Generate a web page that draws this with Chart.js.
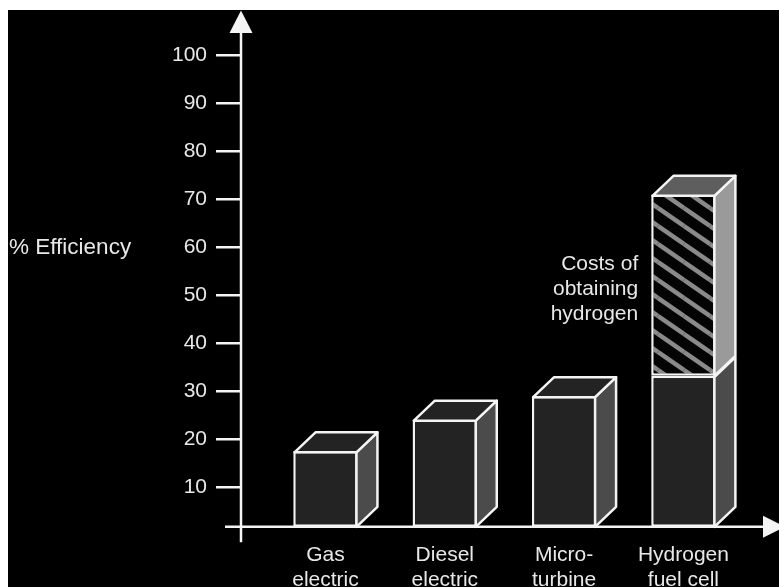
<!DOCTYPE html>
<html>
<head>
<meta charset="utf-8">
<script src="https://cdn.jsdelivr.net/npm/chart.js@4/dist/chart.umd.min.js"></script>
<style>
  html, body { margin: 0; padding: 0; background: #fff; overflow: hidden; width: 779px; height: 587px; }
  #wrap { position: absolute; left: 8px; top: 10px; width: 771px; height: 577px; background: #000; }
  canvas { display: block; }
</style>
</head>
<body>
<div id="wrap"><canvas id="c" width="771" height="577"></canvas></div>
<script>
// Categories along the horizontal axis (two-line labels)
const CATEGORIES = [['Gas', 'electric'], ['Diesel', 'electric'], ['Micro-', 'turbine'], ['Hydrogen', 'fuel cell']];
// Efficiency of each power source, in %
const EFFICIENCY = [17.5, 24.1, 29.0, 33.2];
// Top of the stacked hydrogen segment (efficiency before the cost of obtaining hydrogen)
const WITH_HYDROGEN_COST = [null, null, null, 71.0];
// Value-axis tick labels
const Y_TICKS = [10, 20, 30, 40, 50, 60, 70, 80, 90, 100];
// Value at which the horizontal axis crosses the vertical one
const AXIS_BASE = 1.7;
const Y_LABEL = '% Efficiency';
const NOTE_LINES = ['Costs of', 'obtaining', 'hydrogen'];

const FONT = '"Liberation Sans", Arial, Helvetica, sans-serif';
const FONT_SIZE = 21;
const TEXT = '#e8e8e8';
const LINE = '#f4f4f4';
const LW = 2.5;
const DX = 21, DY = 20;   // depth of the 3D boxes

const canvas = document.getElementById('c');
const ctx0 = canvas.getContext('2d');

// Diagonal stripe fill for the hatched segment
function makeHatch() {
  const w = 26, h = 18;
  const t = document.createElement('canvas');
  t.width = w; t.height = h;
  const g = t.getContext('2d');
  g.fillStyle = '#040404';
  g.fillRect(0, 0, w, h);
  g.strokeStyle = '#8a8a8a';
  g.lineWidth = 4.5;
  for (const ox of [-w, 0, w]) {
    for (const oy of [-h, 0, h]) {
      g.beginPath();
      g.moveTo(ox, oy);
      g.lineTo(ox + w, oy + h);
      g.stroke();
    }
  }
  return ctx0.createPattern(t, 'repeat');
}
const HATCH = makeHatch();

// Side and top faces drawn on each bar
const boxFaces = {
  id: 'boxFaces',
  afterDatasetsDraw(chart) {
    const ctx = chart.ctx;
    const draw = (el, sideFill, topFill) => {
      const p = el.getProps(['x', 'y', 'base', 'width'], true);
      const h = LW / 2;
      const l = p.x - p.width / 2 + h, r = p.x + p.width / 2 - h;
      const t = Math.min(p.y, p.base) + h, b = Math.max(p.y, p.base);
      ctx.save();
      ctx.lineJoin = 'round';
      ctx.lineWidth = LW;
      ctx.strokeStyle = LINE;
      ctx.beginPath();
      ctx.moveTo(r, t); ctx.lineTo(r + DX, t - DY); ctx.lineTo(r + DX, b - DY); ctx.lineTo(r, b);
      ctx.closePath();
      ctx.fillStyle = sideFill; ctx.fill(); ctx.stroke();
      if (topFill) {
        ctx.beginPath();
        ctx.moveTo(l, t); ctx.lineTo(l + DX, t - DY); ctx.lineTo(r + DX, t - DY); ctx.lineTo(r, t);
        ctx.closePath();
        ctx.fillStyle = topFill; ctx.fill(); ctx.stroke();
      }
      ctx.restore();
    };
    chart.getDatasetMeta(0).data.forEach((el, i) => {
      draw(el, '#4b4b4b', WITH_HYDROGEN_COST[i] == null ? '#232323' : null);
    });
    chart.getDatasetMeta(1).data.forEach((el, i) => {
      if (WITH_HYDROGEN_COST[i] == null) return;
      draw(el, '#9a9a9a', '#5e5e5e');
    });
  }
};

// Axis lines with arrow heads, axis title and the note beside the hydrogen bar
const axesAndNotes = {
  id: 'axesAndNotes',
  afterDatasetsDraw(chart) {
    const { ctx, chartArea, scales: { y } } = chart;
    const ax = chartArea.left;
    const ay = y.getPixelForValue(AXIS_BASE);
    const W = chart.width;
    ctx.save();
    ctx.strokeStyle = LINE;
    ctx.fillStyle = LINE;
    ctx.lineWidth = LW;
    ctx.beginPath(); ctx.moveTo(ax, ay + 15.5); ctx.lineTo(ax, 14); ctx.stroke();
    ctx.beginPath(); ctx.moveTo(ax, 0.5); ctx.lineTo(ax - 11.5, 23); ctx.lineTo(ax + 11.5, 23); ctx.closePath(); ctx.fill();
    ctx.beginPath(); ctx.moveTo(ax - 16, ay); ctx.lineTo(W - 10, ay); ctx.stroke();
    ctx.beginPath(); ctx.moveTo(W + 6, ay); ctx.lineTo(W - 16, ay - 11); ctx.lineTo(W - 16, ay + 11); ctx.closePath(); ctx.fill();

    ctx.fillStyle = TEXT;
    ctx.font = '22.5px ' + FONT;
    ctx.textBaseline = 'middle';
    ctx.textAlign = 'left';
    ctx.fillText(Y_LABEL, 1, y.getPixelForValue(60));

    ctx.font = FONT_SIZE + 'px ' + FONT;
    const meta = chart.getDatasetMeta(1);
    const idx = WITH_HYDROGEN_COST.findIndex(v => v != null);
    const el = meta.data[idx];
    const left = el.x - el.width / 2;
    const mid = (y.getPixelForValue(EFFICIENCY[idx]) + y.getPixelForValue(WITH_HYDROGEN_COST[idx])) / 2 + 4;
    ctx.textAlign = 'right';
    NOTE_LINES.forEach((s, k) => ctx.fillText(s, left - 13, mid + (k - 1) * 25));
    ctx.restore();
  }
};

new Chart(canvas, {
  type: 'bar',
  data: {
    datasets: [
      {
        label: 'Efficiency',
        data: EFFICIENCY.map((v, i) => ({ x: i, y: [AXIS_BASE, v] })),
        backgroundColor: '#232323',
        borderColor: LINE,
        borderWidth: LW,
        borderSkipped: false,
        grouped: false,
        barPercentage: 0.54,
        categoryPercentage: 1
      },
      {
        label: 'Costs of obtaining hydrogen',
        data: WITH_HYDROGEN_COST.map((v, i) => ({ x: i, y: v == null ? null : [EFFICIENCY[i], v] })),
        backgroundColor: HATCH,
        borderColor: LINE,
        borderWidth: LW,
        borderSkipped: false,
        grouped: false,
        barPercentage: 0.54,
        categoryPercentage: 1
      }
    ]
  },
  options: {
    responsive: false,
    animation: false,
    events: [],
    layout: { padding: { top: 18, left: 0, right: 0, bottom: 0 } },
    plugins: { legend: { display: false }, tooltip: { enabled: false } },
    scales: {
      x: {
        type: 'linear',
        min: -0.708,
        max: 3.801,
        offset: false,
        grid: { display: false, drawTicks: false },
        border: { display: false },
        ticks: {
          color: TEXT,
          font: { family: FONT, size: FONT_SIZE, lineHeight: 1.19 },
          padding: 8,
          autoSkip: false,
          maxRotation: 0,
          callback: (v, i) => CATEGORIES[i]
        },
        afterBuildTicks: s => { s.ticks = CATEGORIES.map((_, i) => ({ value: i })); },
        afterFit: s => { s.height = 52; }
      },
      y: {
        min: 0,
        max: 105,
        grid: { drawOnChartArea: false, color: LINE, lineWidth: LW, tickLength: 25 },
        border: { display: false },
        ticks: {
          color: TEXT,
          font: { family: FONT, size: FONT_SIZE },
          padding: 9
        },
        afterBuildTicks: s => { s.ticks = Y_TICKS.map(v => ({ value: v })); },
        afterFit: s => { s.width = 233; }
      }
    }
  },
  plugins: [boxFaces, axesAndNotes]
});
</script>
</body>
</html>
